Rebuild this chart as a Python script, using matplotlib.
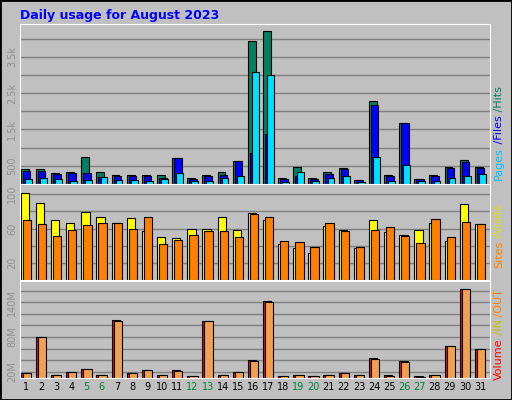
import numpy as np
import matplotlib
matplotlib.use("Agg")
import matplotlib.pyplot as plt

days = np.arange(1, 32)
hits = [400, 400, 305, 340, 750, 330, 250, 250, 250, 250, 720, 170, 250, 330, 620, 3920,
        4220, 170, 470, 170, 330, 440, 120, 2280, 250, 1680, 140, 250, 470, 650, 470]
files = [370, 370, 280, 315, 305, 195, 220, 220, 220, 170, 710, 150, 220, 250, 620, 840,
         1370, 150, 220, 150, 280, 420, 100, 2170, 220, 1680, 130, 220, 440, 610, 440]
pages = [140, 170, 140, 85, 110, 185, 110, 110, 85, 140, 305, 85, 85, 170, 220, 3080,
         3000, 55, 330, 85, 170, 220, 55, 750, 85, 530, 85, 85, 170, 220, 280]
visits = [102, 90, 70, 67, 79, 74, 67, 72, 57, 50, 49, 59, 60, 74, 58, 78,
          70, 42, 37, 32, 63, 58, 37, 70, 56, 52, 58, 67, 45, 89, 65]
sites = [70, 65, 51, 58, 64, 66, 67, 59, 73, 42, 47, 53, 57, 57, 50, 77,
         74, 45, 44, 38, 66, 57, 38, 58, 62, 51, 43, 71, 50, 68, 65]
volume = [17, 80, 15, 20, 25, 15, 109, 17, 22, 15, 23, 13, 107, 15, 20, 41,
          143, 13, 15, 13, 15, 17, 15, 44, 15, 39, 13, 15, 65, 164, 59]
vol_out = [17, 80, 15, 20, 25, 15, 107, 17, 22, 15, 21, 13, 107, 15, 20, 39,
           141, 13, 15, 13, 15, 17, 15, 42, 13, 37, 11, 15, 65, 164, 59]
weekends = [5, 6, 12, 13, 19, 20, 26, 27]

BG = "#c0c0c0"
fig = plt.figure(figsize=(5.12, 4.0), dpi=100, facecolor=BG)
W, H = 512.0, 400.0

def panel(top, bottom):
    ax = fig.add_axes([20 / W, 1 - bottom / H, 470 / W, (bottom - top) / H])
    ax.set_facecolor(BG)
    ax.set_xlim(0.95, 32)
    ax.set_xticks([])
    for s in ax.spines.values():
        s.set_color("white")
    ax.yaxis.grid(True, color="#808080", lw=1)
    ax.set_axisbelow(True)
    ax.tick_params(axis="y", length=0, labelsize=7, labelcolor="#909090", pad=2)
    return ax

kw = dict(align="edge", edgecolor="black", linewidth=0.8)
ax1 = panel(24, 184)
ax1.bar(days, hits, width=0.52, color="#008060", **kw)
ax1.bar(days + 0.13, files, width=0.5, color="#0000ff", **kw)
ax1.bar(days + 0.27, pages, width=0.45, color="#00e0ff", **kw)
ax1.set_ylim(0, 4400)
ax1.set_yticks(np.arange(0, 4400, 500))
ax1.set_yticklabels(["", "500", "", "1.5k", "", "2.5k", "", "3.5k", ""], rotation=90, va="center")

ax2 = panel(184, 280)
ax2.bar(days, visits, width=0.55, color="#ffff00", **kw)
ax2.bar(days + 0.13, sites, width=0.55, color="#ff8000", **kw)
ax2.set_ylim(0, 112)
ax2.set_yticks(np.arange(20, 111, 20))
ax2.set_yticklabels(["20", "", "60", "", "100"], rotation=90, va="center")

ax3 = panel(281, 378)
ax3.bar(days, volume, width=0.55, color="#ff0000", **kw)
ax3.bar(days + 0.13, vol_out, width=0.55, color="#f0a050", **kw)
ax3.set_ylim(9, 177)
ax3.set_yticks(np.arange(20, 177, 20))
ax3.set_yticklabels(["20M", "", "", "80M", "", "", "140M", ""], rotation=90, va="center")

for d in days:
    fig.text((20 + (d - 0.95 + 0.35) * 470 / 31.05) / W, 1 - 387 / H, str(d),
             ha="center", va="center", fontsize=7,
             color="#008040" if d in weekends else "black")

fig.text(20 / W, 1 - 15 / H, "Daily usage for August 2023", color="#0000ff",
         fontsize=9, fontweight="bold", va="center")

renderer = fig.canvas.get_renderer()

def side(parts, x, ybottom):
    # stack coloured pieces upward, measuring each rotated text
    y = ybottom
    for txt, col in parts:
        t = fig.text(x / W, 1 - y / H, txt, color=col, rotation=90, fontsize=8,
                     ha="center", va="bottom")
        y -= t.get_window_extent(renderer).height

side([("Pages", "#00c0ff"), (" /Files", "#0000ff"), (" /Hits", "#008060")], 499, 180)
side([("Sites", "#ff8000"), (" /Visits", "#e0e000")], 499, 268)
side([("Volume", "#ff0000"), (" /IN", "#c0c000"), (" /OUT", "#ff8000")], 499, 380)

fig.patches.append(plt.Rectangle((0, 0), 1, 1, transform=fig.transFigure,
                                 fill=False, edgecolor="black", lw=2))
fig.savefig("out.png", dpi=100, facecolor=BG)
